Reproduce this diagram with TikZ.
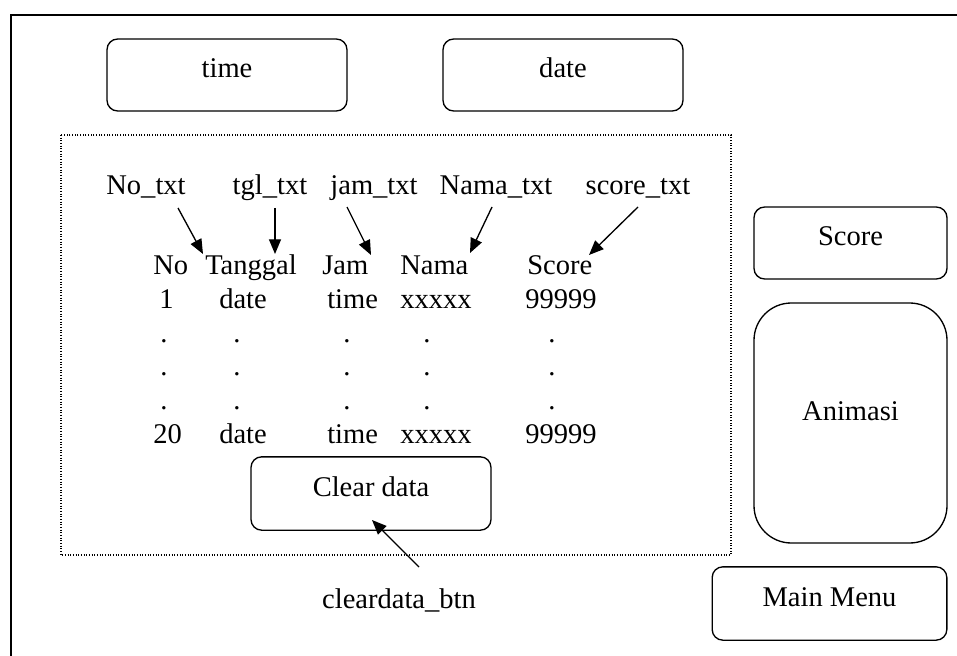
\documentclass[tikz,border=0pt]{standalone}
\usepackage{fontspec}
\setmainfont{Liberation Serif}
\usetikzlibrary{arrows.meta}
\tikzset{btn/.style={draw, line width=1pt, rounded corners=8pt, inner sep=0pt,
            minimum width=#1, minimum height=54pt, text height=0.7em, text depth=0.25em},
         lbl/.style={anchor=base, inner sep=0pt},
         cell/.style={anchor=base west, inner sep=0pt},
         dot/.style={anchor=base, inner sep=0pt},
         ptr/.style={line width=1pt, -{Triangle[length=11pt,width=9pt]}}}

\begin{document}
\begin{tikzpicture}[x=0.75pt, y=-0.75pt, font=\fontsize{21.4}{26}\selectfont]
\useasboundingbox (0,0) rectangle (957,656);
% frame of the screen
\draw[line width=1.5pt] (957,15) -| (11,656);
\draw[line width=0.8pt, dash pattern=on 0.8pt off 1.2pt] (61,135) rectangle (731,555);

% buttons
\node[btn=180pt] (time) at (227,75) {time};
\node[btn=180pt] (date) at (563,75) {date};
\node[btn=144.75pt] (score) at (850.5,243) {Score};
\node[btn=144.75pt, minimum height=180pt, rounded corners=28pt, text depth=1.1em] (anim) at (850.5,423) {Animasi};
\node[btn=176pt, minimum height=55pt] (menu) at (829.5,603.5) {Main Menu};
\node[btn=180pt, minimum height=55pt] (clear) at (371,493.5) {Clear data};

% names of the fields
\node[lbl] (no-txt) at (146,195) {No\_txt};
\node[lbl] (tgl-txt) at (270,195) {tgl\_txt};
\node[lbl] (jam-txt) at (374,195) {jam\_txt};
\node[lbl] (nama-txt) at (496,195) {Nama\_txt};
\node[lbl] (score-txt) at (638,195) {score\_txt};
\node[lbl] (clear-txt) at (399,608) {cleardata\_btn};

% table
\node[cell] (h-no) at (153,274) {No};
\node[cell] (h-tgl) at (205,274) {Tanggal};
\node[cell] (h-jam) at (322,274) {Jam};
\node[cell] (h-nama) at (400,274) {Nama};
\node[cell] (h-score) at (527,274) {Score};

\node[cell] (r1-no) at (159,308) {1};
\node[cell] (r1-tgl) at (219,308) {date};
\node[cell] (r1-jam) at (327,308) {time};
\node[cell] (r1-nama) at (400,308) {xxxxx};
\node[cell] (r1-score) at (525,308) {99999};

\foreach \y [count=\r] in {342,375.5,409}
  \foreach \x [count=\c] in {164,237,347,427,552}
    \node[dot] (dt-\r-\c) at (\x,\y) {.};

\node[cell] (r20-no) at (153,443) {20};
\node[cell] (r20-tgl) at (219,443) {date};
\node[cell] (r20-jam) at (327,443) {time};
\node[cell] (r20-nama) at (400,443) {xxxxx};
\node[cell] (r20-score) at (525,443) {99999};

% pointers
\coordinate (no-a) at (178,208);    \coordinate (no-b) at (203,254);
\coordinate (tgl-a) at (275,208);   \coordinate (tgl-b) at (275,254);
\coordinate (jam-a) at (347,207);   \coordinate (jam-b) at (371,255);
\coordinate (nama-a) at (492,207);  \coordinate (nama-b) at (470,253);
\coordinate (score-a) at (638,207); \coordinate (score-b) at (589,255);
\coordinate (clear-a) at (419,567); \coordinate (clear-b) at (372,520);
\draw[ptr] (no-a) -- (no-b);
\draw[ptr] (tgl-a) -- (tgl-b);
\draw[ptr] (jam-a) -- (jam-b);
\draw[ptr] (nama-a) -- (nama-b);
\draw[ptr] (score-a) -- (score-b);
\draw[ptr] (clear-a) -- (clear-b);
\end{tikzpicture}
\end{document}
